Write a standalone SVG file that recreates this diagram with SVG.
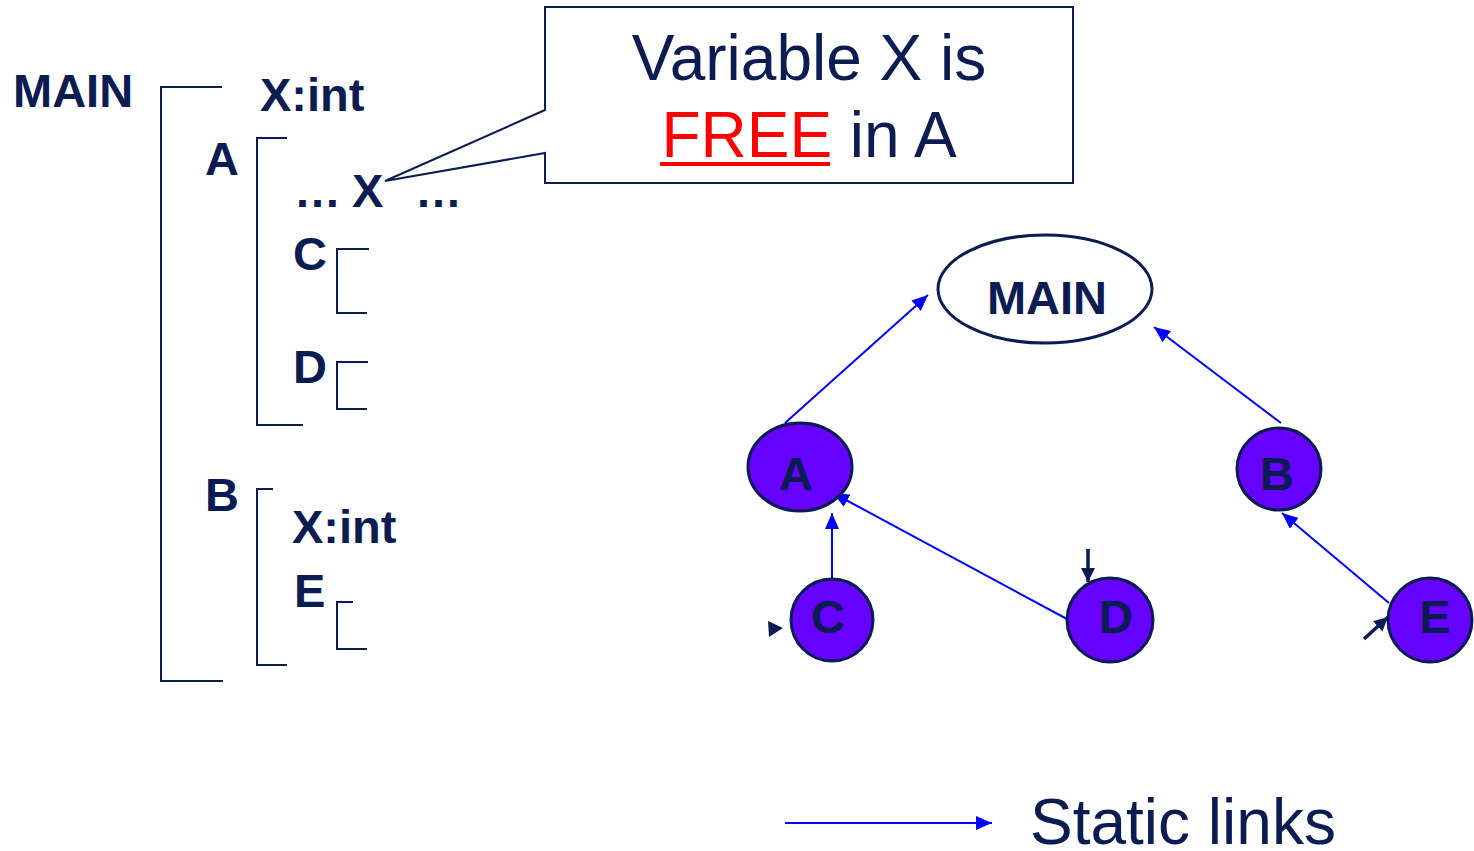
<svg xmlns="http://www.w3.org/2000/svg" width="1474" height="851" viewBox="0 0 1474 851">
  <style>
    .lbl { font-family: "Liberation Sans", Arial, sans-serif; font-weight: bold; font-size: 47px; fill: #0b1c52; }
    .big { font-family: "Liberation Sans", Arial, sans-serif; font-size: 64px; fill: #0b1c52; }
    .brk { fill: none; stroke: #0b1c52; stroke-width: 2; }
    .proc { fill: #6600ff; stroke: #0b1c52; stroke-width: 3; }
    .link { fill: none; stroke: #0000ff; stroke-width: 2; }
    .dark { fill: none; stroke: #0b1c52; stroke-width: 3.5; }
  </style>
  <defs>
    <marker id="blueHead" viewBox="0 0 16 14" refX="16" refY="7" markerWidth="16" markerHeight="14" markerUnits="userSpaceOnUse" orient="auto">
      <path d="M0,0 L16,7 L0,14 Z" fill="#0000ff"/>
    </marker>
    <marker id="darkHead" viewBox="0 0 14 14" refX="14" refY="7" markerWidth="14" markerHeight="14" markerUnits="userSpaceOnUse" orient="auto">
      <path d="M0,0 L14,7 L0,14 Z" fill="#0b1c52"/>
    </marker>
  </defs>

  <!-- nested scope listing -->
  <g id="scope-main">
    <text class="lbl" x="13" y="107">MAIN</text>
    <path class="brk" d="M222,87 H161 V681 H223"/>
    <text class="lbl" x="260" y="111">X:int</text>
  </g>
  <g id="scope-a">
    <text class="lbl" x="205" y="175">A</text>
    <path class="brk" d="M287,138 H257 V425 H303"/>
    <text class="lbl" x="294" y="207">…</text>
    <text class="lbl" x="352" y="207">X</text>
    <text class="lbl" x="415" y="207">…</text>
  </g>
  <g id="scope-c">
    <text class="lbl" x="293" y="270">C</text>
    <path class="brk" d="M369,249 H337 V313 H367"/>
  </g>
  <g id="scope-d">
    <text class="lbl" x="293" y="383">D</text>
    <path class="brk" d="M368,362 H337 V409 H367"/>
  </g>
  <g id="scope-b">
    <text class="lbl" x="205" y="511">B</text>
    <path class="brk" d="M273,489 H257 V665 H287"/>
    <text class="lbl" x="292" y="543">X:int</text>
  </g>
  <g id="scope-e">
    <text class="lbl" x="294" y="607">E</text>
    <path class="brk" d="M353,602 H337 V649 H367"/>
  </g>

  <!-- callout note -->
  <g id="note">
    <path d="M545,7 H1073 V183 H545 V153 L385,181 L545,110 Z" fill="#ffffff" stroke="#0b1c52" stroke-width="2"/>
    <text class="big" x="809" y="80" text-anchor="middle">Variable X is</text>
    <text class="big" x="809" y="157" text-anchor="middle"><tspan fill="#ff0000">FREE</tspan> in A</text>
    <rect x="660" y="162" width="170" height="4" fill="#ff0000"/>
  </g>

  <!-- static links -->
  <g id="connectors">
    <line class="link" x1="785" y1="423" x2="928" y2="295" marker-end="url(#blueHead)"/>
    <line class="link" x1="1281" y1="423" x2="1154" y2="327" marker-end="url(#blueHead)"/>
    <line class="link" x1="832" y1="578" x2="832" y2="513" marker-end="url(#blueHead)"/>
    <line class="link" x1="1067" y1="619" x2="833" y2="493" marker-end="url(#blueHead)"/>
    <line class="link" x1="1389" y1="603" x2="1282" y2="513" marker-end="url(#blueHead)"/>
    <polygon points="768,621 783,628 769,637" fill="#0b1c52"/>
    <line class="dark" x1="1088" y1="549" x2="1088" y2="582" marker-end="url(#darkHead)"/>
    <line class="dark" x1="1364" y1="639" x2="1388" y2="617" marker-end="url(#darkHead)"/>
  </g>

  <!-- tree nodes -->
  <g id="node-main">
    <ellipse cx="1045" cy="289" rx="107" ry="54" fill="#ffffff" stroke="#0b1c52" stroke-width="3"/>
    <text class="lbl" x="1047" y="314" text-anchor="middle">MAIN</text>
  </g>
  <g id="node-a">
    <ellipse class="proc" cx="800" cy="467" rx="52" ry="44"/>
    <text class="lbl" x="796" y="490" text-anchor="middle">A</text>
  </g>
  <g id="node-b">
    <ellipse class="proc" cx="1279" cy="469" rx="42" ry="41"/>
    <text class="lbl" x="1277" y="490" text-anchor="middle">B</text>
  </g>
  <g id="node-c">
    <ellipse class="proc" cx="832" cy="620" rx="41" ry="41"/>
    <text class="lbl" x="828" y="633" text-anchor="middle">C</text>
  </g>
  <g id="node-d">
    <ellipse class="proc" cx="1110" cy="620" rx="43" ry="42"/>
    <text class="lbl" x="1116" y="633" text-anchor="middle">D</text>
  </g>
  <g id="node-e">
    <ellipse class="proc" cx="1430" cy="620" rx="42" ry="42"/>
    <text class="lbl" x="1435" y="633" text-anchor="middle">E</text>
  </g>

  <!-- legend -->
  <g id="legend">
    <line class="link" x1="785" y1="823" x2="992" y2="823" marker-end="url(#blueHead)"/>
    <text class="big" x="1030" y="844">Static links</text>
  </g>
</svg>
